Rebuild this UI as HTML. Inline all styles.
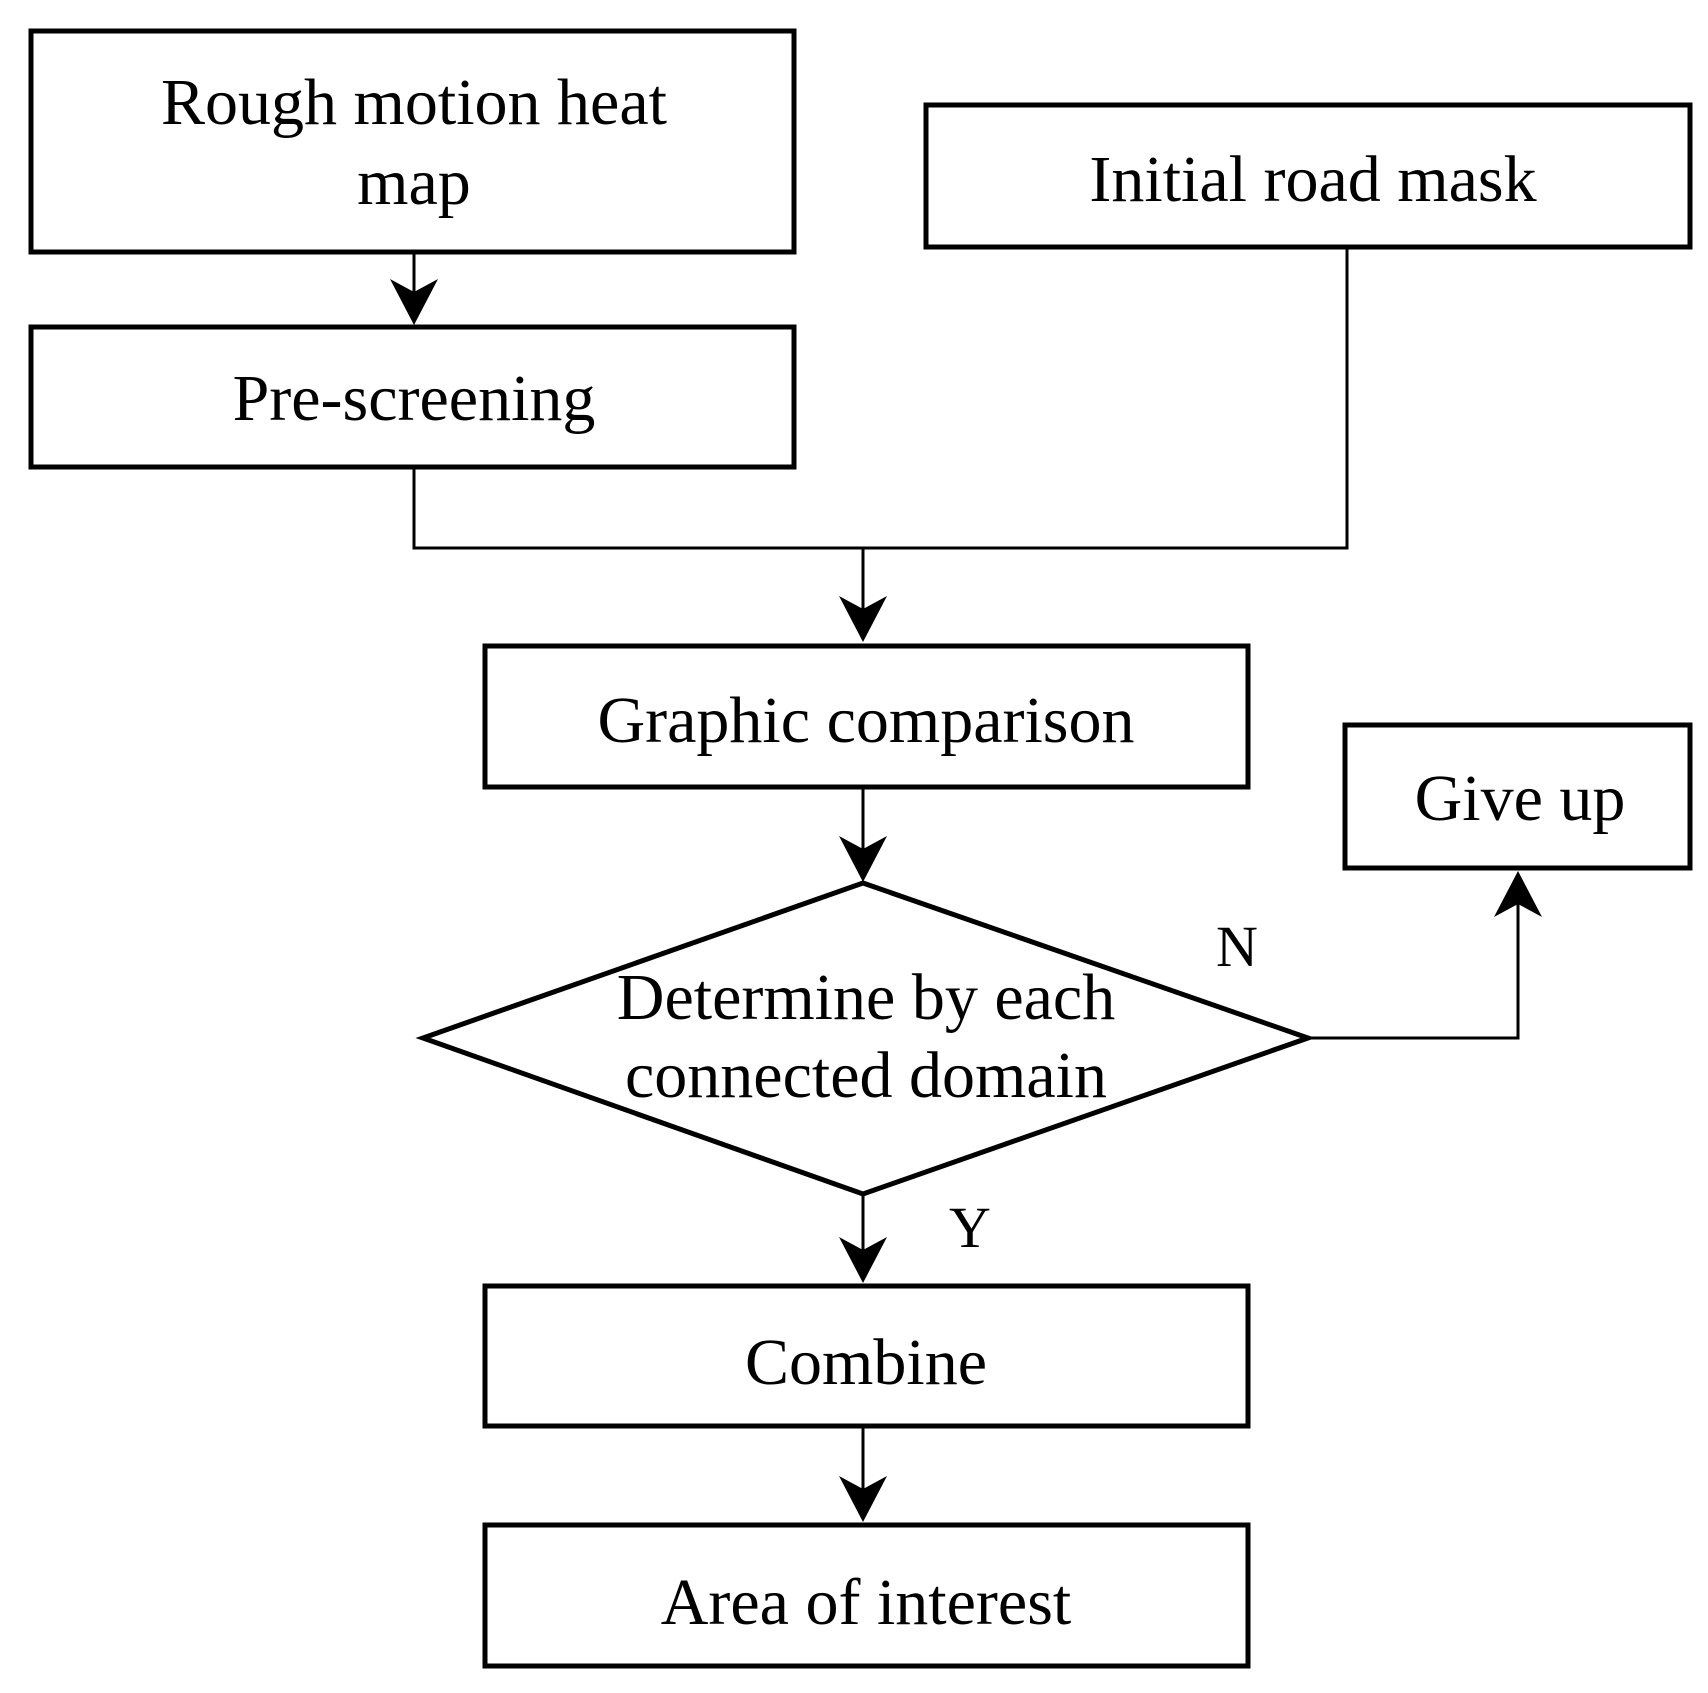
<!DOCTYPE html>
<html><head><meta charset="utf-8"><style>
html,body{margin:0;padding:0;background:#fff;}
svg{display:block;}
text{font-family:"Liberation Serif",serif;font-size:66px;fill:#000;text-anchor:middle;}
</style></head><body>
<svg width="1708" height="1693" viewBox="0 0 1708 1693" xmlns="http://www.w3.org/2000/svg">
<defs>
<path id="ah" d="M0,0 L-24,-46 L0,-33 L24,-46 Z" fill="#000"/>
</defs>
<g fill="none" stroke="#000" stroke-width="5">
<rect x="31" y="31" width="763" height="221"/>
<rect x="926" y="105" width="764" height="142"/>
<rect x="31" y="327" width="763" height="140"/>
<rect x="485" y="646" width="763" height="141"/>
<rect x="1345" y="725" width="345" height="143"/>
<rect x="485" y="1286" width="763" height="140"/>
<rect x="485" y="1525" width="763" height="141"/>
<polygon points="863,883 1308,1038 863,1194 423,1038"/>
</g>
<g fill="none" stroke="#000" stroke-width="3">
<line x1="414" y1="252" x2="414" y2="318"/>
<polyline points="414,467 414,548 1347,548 1347,247"/>
<line x1="863" y1="548" x2="863" y2="636"/>
<line x1="863" y1="787" x2="863" y2="876"/>
<polyline points="1308,1038 1518,1038 1518,876"/>
<line x1="863" y1="1194" x2="863" y2="1278"/>
<line x1="863" y1="1426" x2="863" y2="1518"/>
</g>
<use href="#ah" x="414" y="325"/>
<use href="#ah" x="863" y="642"/>
<use href="#ah" x="863" y="882"/>
<use href="#ah" x="863" y="1283"/>
<use href="#ah" x="863" y="1522"/>
<use href="#ah" transform="translate(1518,871) rotate(180)"/>
<text x="414" y="124">Rough motion heat</text>
<text x="414" y="204">map</text>
<text x="1313" y="201">Initial road mask</text>
<text x="414" y="420">Pre-screening</text>
<text x="866" y="742">Graphic comparison</text>
<text x="1520" y="820">Give up</text>
<text x="866" y="1019">Determine by each</text>
<text x="866" y="1097">connected domain</text>
<text x="1237" y="966" style="font-size:58px">N</text>
<text x="970" y="1247" style="font-size:58px">Y</text>
<text x="866" y="1384">Combine</text>
<text x="866" y="1624">Area of interest</text>
</svg>
</body></html>
